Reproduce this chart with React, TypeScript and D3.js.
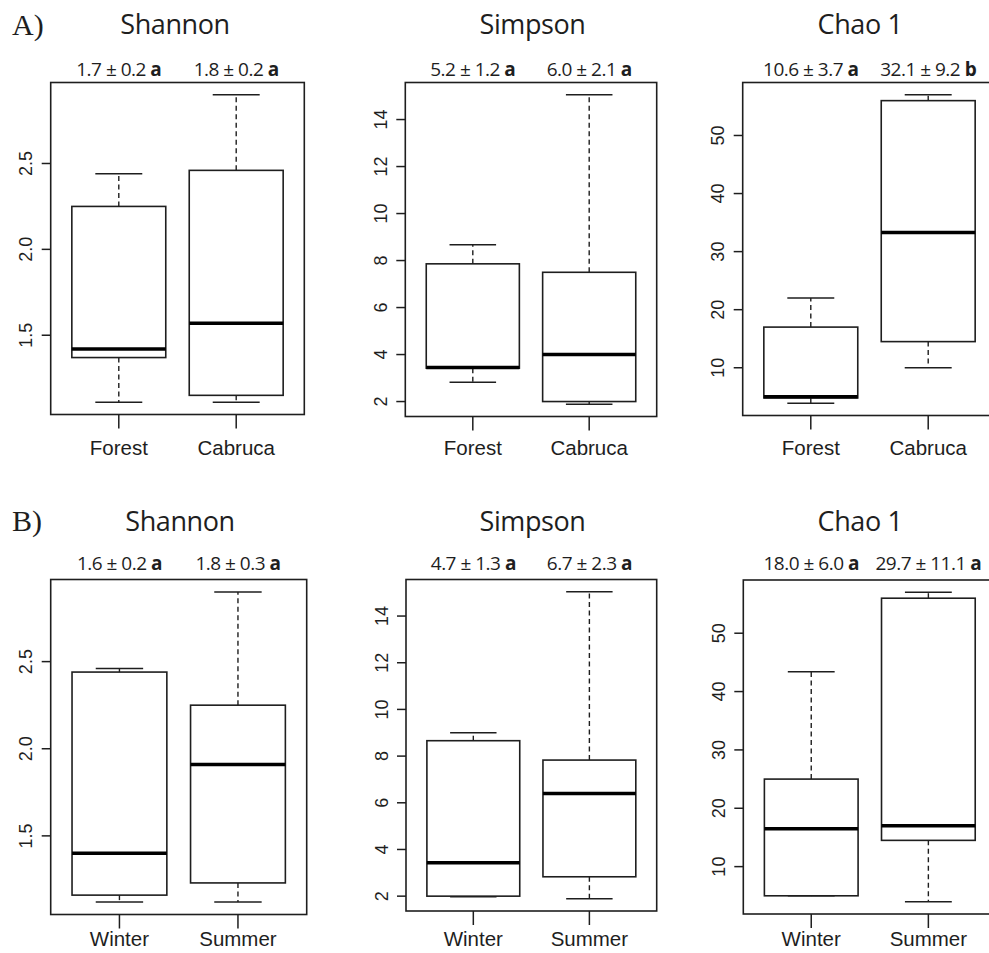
import React from 'react';
import * as d3 from 'd3';

// box stats per group: [min, q1, median, q3, max]
const groupsA = ['Forest', 'Cabruca'];
const groupsB = ['Winter', 'Summer'];

const shannonA = [[1.11, 1.37, 1.42, 2.25, 2.44], [1.11, 1.15, 1.57, 2.46, 2.90]];
const simpsonA = [[2.82, 3.42, 3.45, 7.86, 8.67], [1.89, 2.0, 4.0, 7.5, 15.05]];
const chaoA = [[3.9, 4.8, 5.0, 17.0, 22.0], [10.0, 14.5, 33.3, 56.0, 57.0]];
const shannonB = [[1.12, 1.16, 1.40, 2.44, 2.46], [1.12, 1.23, 1.91, 2.25, 2.90]];
const simpsonB = [[1.97, 2.0, 3.43, 8.66, 9.0], [1.89, 2.83, 6.4, 7.83, 15.04]];
const chaoB = [[5.0, 5.0, 16.5, 25.0, 43.4], [4.0, 14.5, 17.0, 56.0, 57.0]];

const statsShannonA = ['1.7 ± 0.2', '1.8 ± 0.2'];
const statsSimpsonA = ['5.2 ± 1.2', '6.0 ± 2.1'];
const statsChaoA = ['10.6 ± 3.7', '32.1 ± 9.2'];
const statsShannonB = ['1.6 ± 0.2', '1.8 ± 0.3'];
const statsSimpsonB = ['4.7 ± 1.3', '6.7 ± 2.3'];
const statsChaoB = ['18.0 ± 6.0', '29.7 ± 11.1'];
const lettersA = [['a', 'a'], ['a', 'a'], ['a', 'b']];
const lettersB = [['a', 'a'], ['a', 'a'], ['a', 'a']];

const shannonTicks = [1.5, 2.0, 2.5];
const simpsonTicks = [2, 4, 6, 8, 10, 12, 14];
const chaoTicks = [10, 20, 30, 40, 50];

const titles = ['Shannon', 'Simpson', 'Chao 1'];

const INK = '#1e1e1e';
const SANS = '"Open Sans", "Noto Sans", sans-serif';
const AXIS = '"Liberation Sans", Arial, sans-serif';

function BoxPanel({ frame, title, titleX, titleY, statY, labelY, groups, data, stats, letters, ticks, fmt }) {
  const n = groups.length;
  const x = d3.scaleLinear()
    .domain([0.5 - 0.04 * n, n + 0.5 + 0.04 * n])
    .range([frame.x, frame.x + frame.w]);
  const lo = d3.min(data, d => d[0]);
  const hi = d3.max(data, d => d[4]);
  const pad = (hi - lo) * 0.04;
  const y = d3.scaleLinear().domain([lo - pad, hi + pad]).range([frame.y + frame.h, frame.y]);
  const bottom = frame.y + frame.h;

  return (
    <g>
      <text x={titleX} y={titleY} textAnchor="middle" fontFamily={SANS} fontSize={27}
        letterSpacing={-0.4} fill={INK}>{title}</text>
      {data.map((d, i) => {
        const cx = x(i + 1);
        const hw = x(0.4) - x(0);
        const cap = x(0.2) - x(0);
        return (
          <g key={i}>
            <text x={cx} y={statY} textAnchor="middle" fontFamily={SANS} fontSize={19}
              letterSpacing={-0.5} fill={INK}>
              {stats[i] + ' '}<tspan fontWeight="bold">{letters[i]}</tspan>
            </text>
            <line x1={cx} x2={cx} y1={y(d[3])} y2={y(d[4])} stroke={INK} strokeWidth={1.4} strokeDasharray="5,3.5" />
            <line x1={cx} x2={cx} y1={y(d[1])} y2={y(d[0])} stroke={INK} strokeWidth={1.4} strokeDasharray="5,3.5" />
            <line x1={cx - cap} x2={cx + cap} y1={y(d[4])} y2={y(d[4])} stroke={INK} strokeWidth={1.5} />
            <line x1={cx - cap} x2={cx + cap} y1={y(d[0])} y2={y(d[0])} stroke={INK} strokeWidth={1.5} />
            <rect x={cx - hw} y={y(d[3])} width={2 * hw} height={y(d[1]) - y(d[3])}
              fill="white" stroke={INK} strokeWidth={1.6} />
            <line x1={cx - hw} x2={cx + hw} y1={y(d[2])} y2={y(d[2])} stroke="#000" strokeWidth={3.4} />
            <line x1={cx} x2={cx} y1={bottom} y2={bottom + 14} stroke={INK} strokeWidth={1.5} />
            <text x={cx} y={labelY} textAnchor="middle" fontFamily={AXIS} fontSize={20.5} fill={INK}>{groups[i]}</text>
          </g>
        );
      })}
      {ticks.map(t => (
        <g key={t}>
          <line x1={frame.x - 9} x2={frame.x} y1={y(t)} y2={y(t)} stroke={INK} strokeWidth={1.5} />
          <text transform={`translate(${frame.x - 18.5},${y(t)}) rotate(-90)`} textAnchor="middle"
            fontFamily={AXIS} fontSize={18} fill={INK}>{fmt(t)}</text>
        </g>
      ))}
      <rect x={frame.x} y={frame.y} width={frame.w} height={frame.h} fill="none" stroke={INK} strokeWidth={1.6} />
    </g>
  );
}

export default function App() {
  const f1 = d3.format('.1f');
  const f0 = d3.format('d');
  const rowA = [
    { frame: { x: 50.7, y: 82.5, w: 253.6, h: 332 }, data: shannonA, stats: statsShannonA, ticks: shannonTicks, fmt: f1, titleX: 175 },
    { frame: { x: 405.3, y: 82.5, w: 251.4, h: 334 }, data: simpsonA, stats: statsSimpsonA, ticks: simpsonTicks, fmt: f0, titleX: 532.5 },
    { frame: { x: 742.7, y: 82.5, w: 253.6, h: 333 }, data: chaoA, stats: statsChaoA, ticks: chaoTicks, fmt: f0, titleX: 860 },
  ];
  const rowB = [
    { frame: { x: 50.7, y: 579.5, w: 256, h: 335 }, data: shannonB, stats: statsShannonB, ticks: shannonTicks, fmt: f1, titleX: 180 },
    { frame: { x: 406, y: 579.5, w: 250.7, h: 331.5 }, data: simpsonB, stats: statsSimpsonB, ticks: simpsonTicks, fmt: f0, titleX: 532.5 },
    { frame: { x: 743.3, y: 580, w: 253, h: 334 }, data: chaoB, stats: statsChaoB, ticks: chaoTicks, fmt: f0, titleX: 860 },
  ];

  return (
    <svg width={989} height={953} style={{ position: 'absolute', left: 0, top: 0, background: 'white' }}>
      <rect width={989} height={953} fill="white" />
      <text x={12} y={35} fontFamily='"Liberation Serif", "Times New Roman", serif' fontSize={30} fill={INK}>A)</text>
      <text x={12} y={531} fontFamily='"Liberation Serif", "Times New Roman", serif' fontSize={30} fill={INK}>B)</text>
      {rowA.map((p, i) => (
        <BoxPanel key={'a' + i} {...p} title={titles[i]} titleY={34} statY={76} labelY={455}
          groups={groupsA} letters={lettersA[i]} />
      ))}
      {rowB.map((p, i) => (
        <BoxPanel key={'b' + i} {...p} title={titles[i]} titleY={531} statY={570} labelY={946}
          groups={groupsB} letters={lettersB[i]} />
      ))}
    </svg>
  );
}
